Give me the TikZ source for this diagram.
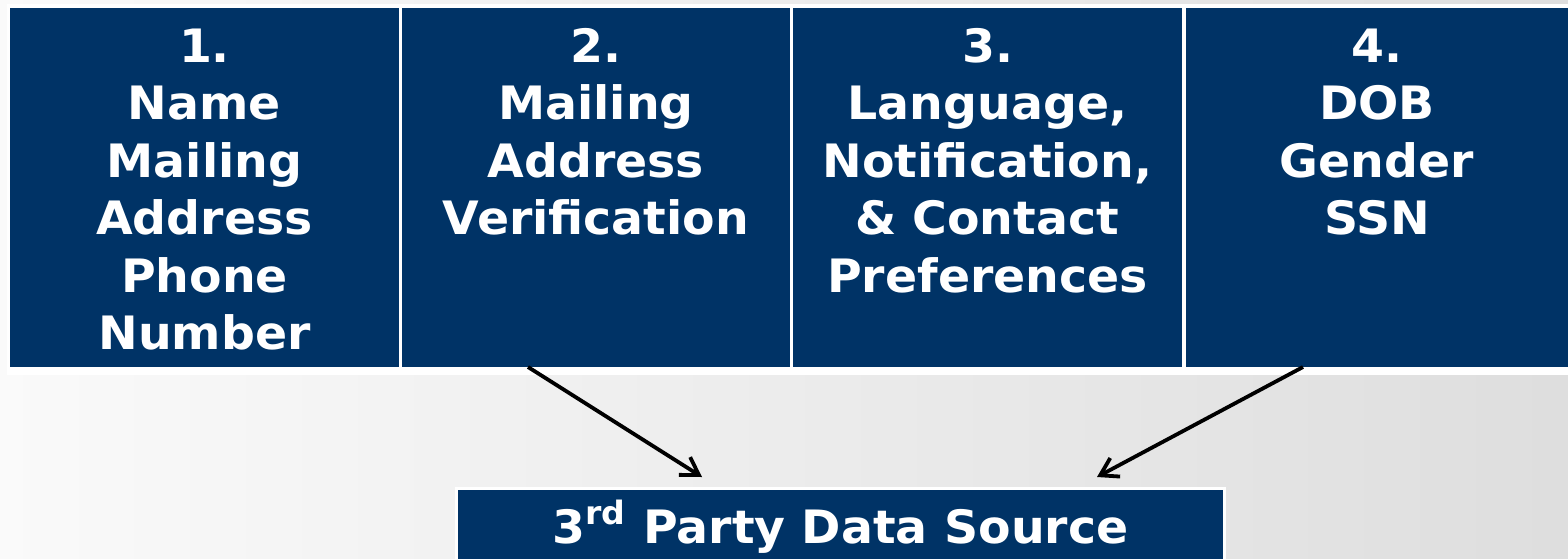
\documentclass[tikz,border=0pt]{standalone}
\usepackage{fontspec}
\setmainfont{DejaVu Sans}[FakeStretch=1.03]
\usetikzlibrary{arrows.meta,calc}
\definecolor{navy}{RGB}{0,51,102}
\begin{document}
\begin{tikzpicture}[x=0.5pt,y=-0.5pt,
  panel/.style={fill=navy, draw=none, inner sep=0pt, outer sep=0pt, anchor=north west,
                minimum height=179.5pt},
  caption/.style={text=white, font=\fontsize{23}{28.75}\selectfont\bfseries,
                  align=center, text width=190pt, inner sep=0pt, anchor=base},
  arr/.style={-{Straight Barb[length=8.5pt,width=10.5pt]}, line width=1.9pt, black}]
  \useasboundingbox (0,0) rectangle (1568,558);
  \clip (0,0) rectangle (1568,558);
  % soft grey backdrop
  \shade[left color=black!2, right color=black!13] (0,0) rectangle (1568,558);

  % white band behind the four panels
  \node[fill=white, inner sep=0pt, outer sep=0pt, anchor=north west,
        minimum width=780.5pt, minimum height=185.5pt] (band) at (7,4) {};

  % the four category panels
  \node[panel, minimum width=194.5pt] (b1) at (10,8) {};
  \node[panel, minimum width=194pt]   (b2) at (402,8) {};
  \node[panel, minimum width=194.5pt] (b3) at (793,8) {};
  \node[panel, minimum width=191pt]   (b4) at (1186,8) {};

  \node[caption] (t1) at (b1.center |- 0,62) {1.\\Name\\Mailing\\Address\\Phone\\Number};
  \node[caption] (t2) at (b2.center |- 0,62) {2.\\Mailing\\Address\\Verification};
  \node[caption] (t3) at (b3.center |- 0,62) {3.\\Language,\\Notification,\\\& Contact\\Preferences};
  \node[caption] (t4) at (b4.center |- 0,62) {4.\\DOB\\Gender\\SSN};

  % data source panel with its white rim
  \node[fill=navy, draw=white, line width=1.5pt, inner sep=0pt, outer sep=0pt,
        anchor=north west, minimum width=384pt, minimum height=40.75pt]
        (src) at (456.5,488.5) {};
  \node[text=white, font=\fontsize{23}{28.75}\selectfont\bfseries, inner sep=0pt, anchor=base]
        (t5) at (src.center |- 0,543) {3\textsuperscript{rd} Party Data Source};

  % connectors
  \draw[arr] ($(b2.south)+(-68,0)$) -- ($(src.north)+(-138.5,-11.5)$);
  \draw[arr] ($(b4.south)+(-74,0)$) -- ($(src.north)+(256.5,-11.5)$);
\end{tikzpicture}
\end{document}
